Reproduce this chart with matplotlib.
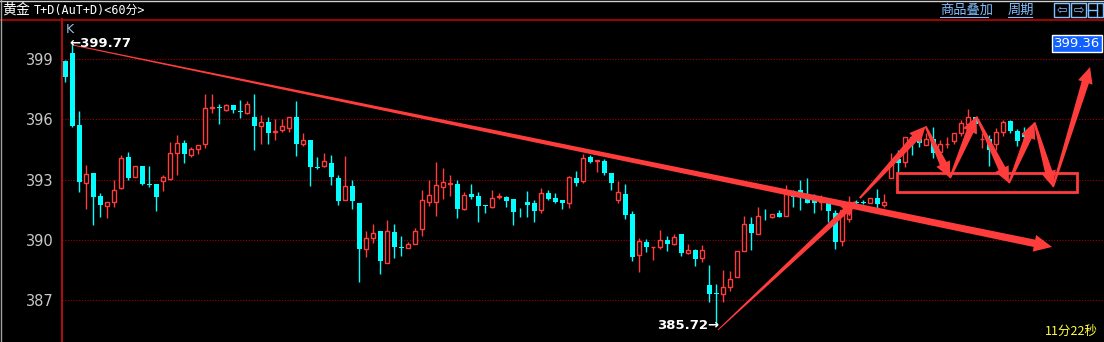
import matplotlib
matplotlib.use("Agg")
import matplotlib.pyplot as plt
from matplotlib.patches import Polygon, Rectangle
from matplotlib.transforms import IdentityTransform
import numpy as np

plt.rcParams['font.family'] = ['Noto Sans CJK SC', 'DejaVu Sans']

# 60分钟K线 (开, 收, 高, 低)
opens = [398.92, 399.30, 395.70, 392.83, 393.35, 392.17, 391.70, 391.88, 392.58, 394.10,
         393.13, 393.70, 392.80, 392.80, 392.93, 393.03, 394.30, 394.80, 394.23, 394.50,
         394.75, 396.55, 396.60, 396.48, 396.72, 396.42, 396.33, 396.10, 395.68, 395.85,
         395.37, 395.48, 395.58, 396.10, 394.78, 394.95, 393.65, 393.68, 393.85, 393.10,
         391.98, 392.67, 391.85, 389.53, 390.08, 390.42, 388.85, 390.37, 389.65, 389.60,
         389.80, 390.53, 391.88, 391.88, 392.65, 392.77, 392.77, 391.52, 392.30, 392.17,
         391.72, 391.63, 392.15, 392.12, 392.02, 391.40, 391.87, 391.82, 391.48, 392.35,
         392.10, 392.00, 391.83, 393.07, 392.93, 394.12, 393.93, 393.92, 393.35, 392.00,
         392.30, 391.27, 389.25, 389.92, 389.63, 389.63, 390.00, 389.82, 390.30, 389.37,
         389.52, 389.10, 387.77, 387.32, 387.33, 387.68, 388.13, 389.43, 390.77, 390.27,
         391.20, 391.13, 391.32, 391.18, 392.25, 392.47, 392.30, 392.17, 391.90, 392.00,
         391.35, 389.95, 391.05, 391.90, 391.88, 391.83, 392.10, 391.73, 393.10, 394.00,
         393.88, 395.10, 395.00, 394.72, 395.00, 394.35, 394.75, 394.90, 395.30, 395.75,
         396.10, 395.00, 395.00, 394.77, 395.38, 395.92, 395.42, 395.30]
closes = [398.08, 395.67, 392.88, 393.30, 392.13, 391.73, 391.90, 392.50, 394.05, 393.10,
          393.70, 392.77, 392.75, 392.13, 393.13, 394.30, 394.80, 394.28, 394.50, 394.70,
          396.55, 396.60, 396.55, 396.72, 396.48, 396.35, 396.77, 395.68, 395.85, 395.33,
          395.40, 395.65, 396.10, 394.78, 394.95, 393.63, 393.60, 393.95, 393.13, 391.93,
          392.67, 391.93, 389.53, 390.10, 390.35, 388.93, 390.42, 389.63, 389.60, 389.80,
          390.45, 392.00, 392.25, 392.75, 392.90, 392.80, 391.52, 392.25, 392.12, 391.68,
          391.68, 392.10, 392.17, 391.93, 391.38, 391.37, 391.73, 391.43, 392.35, 392.02,
          391.88, 391.83, 393.12, 392.83, 394.07, 393.88, 393.95, 393.33, 392.83, 392.37,
          391.23, 389.17, 389.95, 389.63, 389.65, 390.00, 389.82, 390.15, 389.37, 389.50,
          389.07, 389.50, 387.33, 387.30, 387.67, 388.07, 389.47, 390.77, 390.33, 391.17,
          391.17, 391.30, 391.13, 392.30, 392.13, 392.13, 391.83, 391.83, 392.00, 391.45,
          389.88, 391.50, 391.90, 391.85, 391.85, 392.10, 391.77, 391.90, 393.88, 393.85,
          395.10, 394.80, 394.80, 395.00, 394.33, 394.75, 394.77, 395.30, 395.80, 396.10,
          395.77, 395.02, 394.47, 395.38, 395.87, 395.43, 394.93, 395.10]
highs = [398.97, 399.77, 396.42, 393.75, 393.35, 392.35, 391.90, 392.97, 394.20, 394.35,
         393.70, 393.70, 393.67, 392.80, 393.25, 394.87, 395.22, 394.97, 394.60, 394.70,
         397.27, 397.27, 396.75, 396.77, 396.72, 396.97, 396.90, 397.27, 396.22, 396.10,
         396.00, 396.00, 396.10, 396.92, 395.30, 394.95, 394.12, 394.30, 394.20, 393.25,
         394.17, 392.97, 391.85, 390.45, 390.77, 390.42, 390.97, 390.77, 390.17, 389.90,
         390.60, 392.47, 393.00, 393.87, 393.57, 393.22, 392.97, 392.37, 392.77, 392.37,
         391.72, 392.47, 392.32, 392.18, 392.02, 391.60, 392.43, 391.97, 392.57, 392.47,
         392.32, 392.00, 393.20, 393.42, 394.27, 394.20, 393.95, 394.00, 393.35, 392.95,
         392.77, 391.45, 390.10, 390.02, 389.65, 390.50, 390.17, 390.30, 390.30, 389.82,
         389.57, 389.77, 388.77, 387.80, 388.52, 388.47, 389.47, 391.17, 391.12, 391.62,
         391.55, 391.30, 391.47, 392.73, 392.47, 392.97, 393.07, 392.28, 392.22, 392.07,
         391.47, 391.50, 392.18, 392.00, 392.00, 392.10, 392.52, 392.27, 394.30, 394.47,
         395.10, 395.15, 395.15, 395.33, 395.60, 394.97, 395.10, 395.30, 395.97, 396.52,
         396.10, 395.30, 395.22, 395.55, 395.97, 395.97, 395.50, 395.60]
lows = [397.88, 395.63, 392.38, 391.53, 390.75, 391.13, 391.08, 391.63, 392.53, 393.00,
        393.13, 392.73, 392.63, 391.43, 392.43, 392.97, 393.23, 393.83, 394.10, 394.28,
        394.58, 396.33, 395.78, 396.42, 396.33, 396.08, 396.27, 394.48, 394.78, 394.78,
        394.98, 395.37, 395.37, 394.18, 394.68, 392.68, 393.53, 393.62, 392.73, 391.72,
        391.98, 391.53, 387.93, 389.13, 389.83, 388.28, 388.85, 389.08, 389.18, 389.60,
        389.80, 390.18, 391.68, 391.18, 392.03, 392.18, 391.08, 391.48, 392.03, 390.88,
        391.35, 391.58, 392.03, 391.63, 390.73, 391.13, 391.13, 390.90, 391.33, 391.98,
        391.83, 391.53, 391.60, 392.68, 392.83, 393.83, 393.38, 393.22, 392.47, 391.83,
        391.03, 388.93, 388.38, 389.42, 389.02, 389.55, 389.47, 389.73, 389.22, 389.28,
        388.72, 388.92, 386.93, 385.72, 386.93, 387.47, 388.13, 389.43, 389.52, 390.27,
        390.97, 391.08, 391.13, 391.18, 391.65, 391.48, 391.83, 391.33, 391.48, 390.88,
        389.53, 389.68, 390.88, 391.73, 391.77, 391.83, 391.55, 391.63, 393.10, 393.35,
        393.65, 394.22, 394.62, 394.72, 394.05, 394.22, 394.58, 394.77, 395.17, 395.47,
        395.30, 394.55, 393.68, 394.47, 395.17, 395.33, 394.67, 394.90]

y_ticks = [387, 390, 393, 396, 399]

# 手绘箭头 (K线序号, 价格)
trend_arrow = [(1.0, 399.70), (140.96, 389.65)]
rise_arrow = [(93.24, 385.52), (112.96, 391.94)]
zigzag = [(113.5, 392.08), (122.9, 395.65), (126.39, 393.08), (130.15, 396.14),
          (134.81, 392.83), (138.45, 395.85), (141.1, 392.63), (146.39, 398.60)]
box = (118.81, 392.38, 144.53, 393.33)

RED = "#ff3c3c"
CYAN = "#00ffff"

W, H = 1104, 342
fig = plt.figure(figsize=(W / 100, H / 100), dpi=100, facecolor="black")
# 图区: 左 62px, 上 19px
ax = fig.add_axes([62 / W, 0, 1 - 62 / W, (H - 19) / H])
ax.set_facecolor("black")
ax.set_xlim((62 - 65.3) / 7, (W - 65.3) / 7)
ax.set_ylim(399 - (H - 59) / 20.1, 399 + 40 / 20.1)
for s in ax.spines.values():
    s.set_visible(False)
ax.spines["left"].set_visible(True)
ax.spines["left"].set_color("#d01010")
ax.spines["left"].set_linewidth(1.2)
ax.set_xticks([])
ax.set_yticks(y_ticks)
ax.set_yticklabels([str(t) for t in y_ticks], color="#c8c8c8", fontsize=10.5,
                   family="DejaVu Sans")
ax.tick_params(axis="y", length=0, pad=6)
for t in y_ticks:
    ax.axhline(t, color="#a00000", lw=0.8, ls=(0, (1, 1.5)), zorder=0)

# K线
x = np.arange(len(opens))
o, c, h, l = map(np.array, (opens, closes, highs, lows))
up = c >= o
ax.vlines(x[up], l[up], h[up], color=RED, lw=1, zorder=2)
ax.vlines(x[~up], l[~up], h[~up], color=CYAN, lw=1, zorder=2)
body = np.maximum(np.abs(c - o), 0.04)
ax.bar(x[up], body[up], bottom=np.minimum(o, c)[up], width=0.62,
       facecolor="black", edgecolor=RED, lw=1, zorder=3)
ax.bar(x[~up], body[~up], bottom=np.minimum(o, c)[~up], width=0.72,
       color=CYAN, lw=0, zorder=3)


def taper_arrow(p0, p1, w0, w1, hw, hl):
    (x0, y0), (x1, y1) = ax.transData.transform([p0, p1])
    L = np.hypot(x1 - x0, y1 - y0)
    ux, uy = (x1 - x0) / L, (y1 - y0) / L
    nx, ny = -uy, ux
    bx, by = x1 - ux * hl, y1 - uy * hl
    pts = [(x0 + nx * w0 / 2, y0 + ny * w0 / 2), (bx + nx * w1 / 2, by + ny * w1 / 2),
           (bx + nx * hw / 2, by + ny * hw / 2), (x1, y1),
           (bx - nx * hw / 2, by - ny * hw / 2), (bx - nx * w1 / 2, by - ny * w1 / 2),
           (x0 - nx * w0 / 2, y0 - ny * w0 / 2)]
    ax.add_patch(Polygon(pts, closed=True, facecolor=RED, edgecolor="none",
                         transform=IdentityTransform(), zorder=5))


taper_arrow(*trend_arrow, 1.0, 7.5, 17, 18)
taper_arrow(*rise_arrow, 1.0, 6, 14, 15)
for k in range(len(zigzag) - 1):
    taper_arrow(zigzag[k], zigzag[k + 1], 2, 7.5, 15, 16)
ax.add_patch(Rectangle((box[0], box[1]), box[2] - box[0], box[3] - box[1],
                       fill=False, edgecolor=RED, lw=2, zorder=5))

# 极值标注
ax.text(0.6, 399.77, "←399.77", color="white", fontsize=9.5, fontweight="bold",
        va="center", ha="left", family="DejaVu Sans", zorder=6)
ax.text(93.4, 385.72, "385.72→", color="white", fontsize=9.5, fontweight="bold",
        va="center", ha="right", family="DejaVu Sans", zorder=6)
ax.text(0.0, 400.45, "K", color="#a0c0e0", fontsize=9, va="center", ha="left",
        family="DejaVu Sans")

# 顶部标题栏
fig.add_artist(plt.Line2D([0, 1], [1 - 19.5 / H] * 2, color="#c00000", lw=1.2))
fig.add_artist(plt.Line2D([0, 1], [1 - 0.5 / H] * 2, color="#d0d0d0", lw=1))
fig.add_artist(plt.Line2D([0.5 / W] * 2, [0, 1], color="#a0a0a0", lw=1))
fig.text(2 / W, 1 - 10 / H, "黄金", color="white", fontsize=10, va="center")
fig.text(34 / W, 1 - 10 / H, "T+D(AuT+D)<60分>", color="white", fontsize=8.5,
         va="center", family=["DejaVu Sans Mono", "Noto Sans CJK SC"])
fig.text(940 / W, 1 - 10 / H, "商品叠加", color="#80c0ff", fontsize=9.5, va="center")
fig.text(1008 / W, 1 - 10 / H, "周期", color="#80c0ff", fontsize=9.5, va="center")
fig.add_artist(plt.Line2D([940 / W, 988 / W], [1 - 17 / H] * 2, color="#80c0ff", lw=0.8))
fig.add_artist(plt.Line2D([1008 / W, 1032 / W], [1 - 17 / H] * 2, color="#80c0ff", lw=0.8))
for bx0, sym in [(1054, "⇦"), (1071, "⇨"), (1088, "")]:
    fig.add_artist(Rectangle((bx0 / W, 1 - 17 / H), 15 / W, 14 / H, fill=False,
                             edgecolor="#80c0ff", lw=1, transform=fig.transFigure))
    if sym:
        fig.text((bx0 + 7.5) / W, 1 - 10 / H, sym, color="#80c0ff", fontsize=9,
                 ha="center", va="center", family="DejaVu Sans")
fig.add_artist(plt.Line2D([1097 / W] * 2, [1 - 17 / H, 1 - 3 / H], color="#80c0ff", lw=1))
fig.add_artist(plt.Line2D([1088 / W, 1097 / W], [1 - 10 / H] * 2, color="#80c0ff", lw=1))

fig.text(1100 / W, 1 - 43.5 / H, "399.36", color="white", fontsize=9.5, ha="right",
         va="center", family="DejaVu Sans",
         bbox=dict(boxstyle="square,pad=0.15", facecolor="#1060ff", edgecolor="white", lw=1))
fig.text(1098 / W, 1 - 331 / H, "11分22秒", color="#ffff40", fontsize=9, ha="right",
         va="center")

fig.savefig("out.png", dpi=100, facecolor="black")
